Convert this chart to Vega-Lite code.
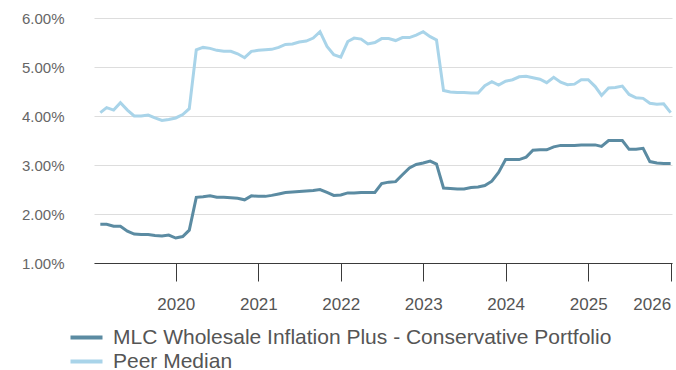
{
  "$schema": "https://vega.github.io/schema/vega-lite/v6.json",
  "width": 578,
  "height": 245,
  "autosize": {"type": "none"},
  "padding": {"left": 94, "top": 18, "right": 4, "bottom": 107},
  "background": "white",
  "config": {
    "font": "Liberation Sans",
    "view": {"stroke": null}
  },
  "data": {
    "values": [
      {"d": "2019-02-01", "fund": 1.79, "peer": 4.07},
      {"d": "2019-03-01", "fund": 1.79, "peer": 4.17},
      {"d": "2019-04-01", "fund": 1.75, "peer": 4.12},
      {"d": "2019-05-01", "fund": 1.75, "peer": 4.27},
      {"d": "2019-06-01", "fund": 1.65, "peer": 4.12},
      {"d": "2019-07-01", "fund": 1.59, "peer": 4.00},
      {"d": "2019-08-01", "fund": 1.58, "peer": 4.00},
      {"d": "2019-09-01", "fund": 1.58, "peer": 4.02},
      {"d": "2019-10-01", "fund": 1.56, "peer": 3.96},
      {"d": "2019-11-01", "fund": 1.55, "peer": 3.91},
      {"d": "2019-12-01", "fund": 1.57, "peer": 3.93},
      {"d": "2020-01-01", "fund": 1.51, "peer": 3.96},
      {"d": "2020-02-01", "fund": 1.54, "peer": 4.03},
      {"d": "2020-03-01", "fund": 1.67, "peer": 4.15},
      {"d": "2020-04-01", "fund": 2.34, "peer": 5.35},
      {"d": "2020-05-01", "fund": 2.35, "peer": 5.40},
      {"d": "2020-06-01", "fund": 2.37, "peer": 5.38},
      {"d": "2020-07-01", "fund": 2.34, "peer": 5.34},
      {"d": "2020-08-01", "fund": 2.34, "peer": 5.32},
      {"d": "2020-09-01", "fund": 2.33, "peer": 5.32},
      {"d": "2020-10-01", "fund": 2.32, "peer": 5.27},
      {"d": "2020-11-01", "fund": 2.29, "peer": 5.19},
      {"d": "2020-12-01", "fund": 2.37, "peer": 5.32},
      {"d": "2021-01-01", "fund": 2.36, "peer": 5.34},
      {"d": "2021-02-01", "fund": 2.36, "peer": 5.35},
      {"d": "2021-03-01", "fund": 2.38, "peer": 5.36},
      {"d": "2021-04-01", "fund": 2.41, "peer": 5.40},
      {"d": "2021-05-01", "fund": 2.44, "peer": 5.46},
      {"d": "2021-06-01", "fund": 2.45, "peer": 5.47},
      {"d": "2021-07-01", "fund": 2.46, "peer": 5.51},
      {"d": "2021-08-01", "fund": 2.47, "peer": 5.53},
      {"d": "2021-09-01", "fund": 2.48, "peer": 5.59},
      {"d": "2021-10-01", "fund": 2.50, "peer": 5.72},
      {"d": "2021-11-01", "fund": 2.44, "peer": 5.42},
      {"d": "2021-12-01", "fund": 2.38, "peer": 5.25},
      {"d": "2022-01-01", "fund": 2.39, "peer": 5.20},
      {"d": "2022-02-01", "fund": 2.43, "peer": 5.52},
      {"d": "2022-03-01", "fund": 2.43, "peer": 5.59},
      {"d": "2022-04-01", "fund": 2.44, "peer": 5.57},
      {"d": "2022-05-01", "fund": 2.44, "peer": 5.47},
      {"d": "2022-06-01", "fund": 2.44, "peer": 5.50},
      {"d": "2022-07-01", "fund": 2.62, "peer": 5.58},
      {"d": "2022-08-01", "fund": 2.65, "peer": 5.58},
      {"d": "2022-09-01", "fund": 2.66, "peer": 5.54},
      {"d": "2022-10-01", "fund": 2.80, "peer": 5.60},
      {"d": "2022-11-01", "fund": 2.94, "peer": 5.60},
      {"d": "2022-12-01", "fund": 3.01, "peer": 5.65},
      {"d": "2023-01-01", "fund": 3.04, "peer": 5.72},
      {"d": "2023-02-01", "fund": 3.08, "peer": 5.62},
      {"d": "2023-03-01", "fund": 3.02, "peer": 5.55},
      {"d": "2023-04-01", "fund": 2.53, "peer": 4.52},
      {"d": "2023-05-01", "fund": 2.52, "peer": 4.49},
      {"d": "2023-06-01", "fund": 2.51, "peer": 4.48},
      {"d": "2023-07-01", "fund": 2.51, "peer": 4.48},
      {"d": "2023-08-01", "fund": 2.54, "peer": 4.47},
      {"d": "2023-09-01", "fund": 2.55, "peer": 4.47},
      {"d": "2023-10-01", "fund": 2.58, "peer": 4.62},
      {"d": "2023-11-01", "fund": 2.67, "peer": 4.70},
      {"d": "2023-12-01", "fund": 2.85, "peer": 4.63},
      {"d": "2024-01-01", "fund": 3.11, "peer": 4.71},
      {"d": "2024-02-01", "fund": 3.11, "peer": 4.74},
      {"d": "2024-03-01", "fund": 3.11, "peer": 4.80},
      {"d": "2024-04-01", "fund": 3.16, "peer": 4.81},
      {"d": "2024-05-01", "fund": 3.30, "peer": 4.78},
      {"d": "2024-06-01", "fund": 3.31, "peer": 4.75},
      {"d": "2024-07-01", "fund": 3.31, "peer": 4.68},
      {"d": "2024-08-01", "fund": 3.37, "peer": 4.79},
      {"d": "2024-09-01", "fund": 3.40, "peer": 4.69},
      {"d": "2024-10-01", "fund": 3.40, "peer": 4.64},
      {"d": "2024-11-01", "fund": 3.40, "peer": 4.65},
      {"d": "2024-12-01", "fund": 3.41, "peer": 4.74},
      {"d": "2025-01-01", "fund": 3.41, "peer": 4.74},
      {"d": "2025-02-01", "fund": 3.41, "peer": 4.60},
      {"d": "2025-03-01", "fund": 3.38, "peer": 4.42},
      {"d": "2025-04-01", "fund": 3.50, "peer": 4.57},
      {"d": "2025-05-01", "fund": 3.50, "peer": 4.58},
      {"d": "2025-06-01", "fund": 3.50, "peer": 4.61},
      {"d": "2025-07-01", "fund": 3.32, "peer": 4.44},
      {"d": "2025-08-01", "fund": 3.32, "peer": 4.37},
      {"d": "2025-09-01", "fund": 3.34, "peer": 4.36},
      {"d": "2025-10-01", "fund": 3.07, "peer": 4.26},
      {"d": "2025-11-01", "fund": 3.04, "peer": 4.24},
      {"d": "2025-12-01", "fund": 3.03, "peer": 4.25},
      {"d": "2026-01-01", "fund": 3.03, "peer": 4.07}
    ]
  },
  "transform": [
    {"fold": ["fund", "peer"], "as": ["series", "value"]}
  ],
  "mark": {"type": "line", "strokeWidth": 3, "clip": false},
  "encoding": {
    "x": {
      "field": "d",
      "type": "temporal",
      "scale": {
        "type": "utc",
        "domain": [
          {"year": 2019, "month": 1, "date": 4, "utc": true},
          {"year": 2026, "month": 1, "date": 7, "utc": true}
        ]
      },
      "axis": {
        "title": null,
        "format": "%Y",
        "tickCount": {"interval": "year", "step": 1},
        "grid": false,
        "domainColor": "#3a3a3a",
        "domainWidth": 1,
        "tickColor": "#3a3a3a",
        "tickSize": 18,
        "tickWidth": 1,
        "labelFontSize": 17,
        "labelColor": "#555555",
        "labelPadding": 15,
        "labelFlush": 6
      }
    },
    "y": {
      "field": "value",
      "type": "quantitative",
      "scale": {"domain": [1, 6], "nice": false, "zero": false},
      "axis": {
        "title": null,
        "values": [1, 2, 3, 4, 5, 6],
        "labelExpr": "format(datum.value, '.2f') + '%'",
        "domain": false,
        "ticks": false,
        "grid": true,
        "gridColor": "#dddddd",
        "gridWidth": 1.2,
        "labelFontSize": 15,
        "labelColor": "#666666",
        "labelPadding": 30
      }
    },
    "color": {
      "field": "series",
      "type": "nominal",
      "scale": {"domain": ["fund", "peer"], "range": ["#5b8ba2", "#a9d4e9"]},
      "legend": {
        "title": null,
        "orient": "none",
        "legendX": -18,
        "legendY": 309,
        "direction": "vertical",
        "symbolType": "M-2,0H2",
        "symbolSize": 256,
        "symbolStrokeWidth": 4,
        "labelFontSize": 21,
        "labelColor": "#555555",
        "labelOffset": 16,
        "rowPadding": 2,
        "labelLimit": 700,
        "labelExpr": "datum.label == 'fund' ? 'MLC Wholesale Inflation Plus - Conservative Portfolio' : 'Peer Median'"
      }
    }
  }
}
